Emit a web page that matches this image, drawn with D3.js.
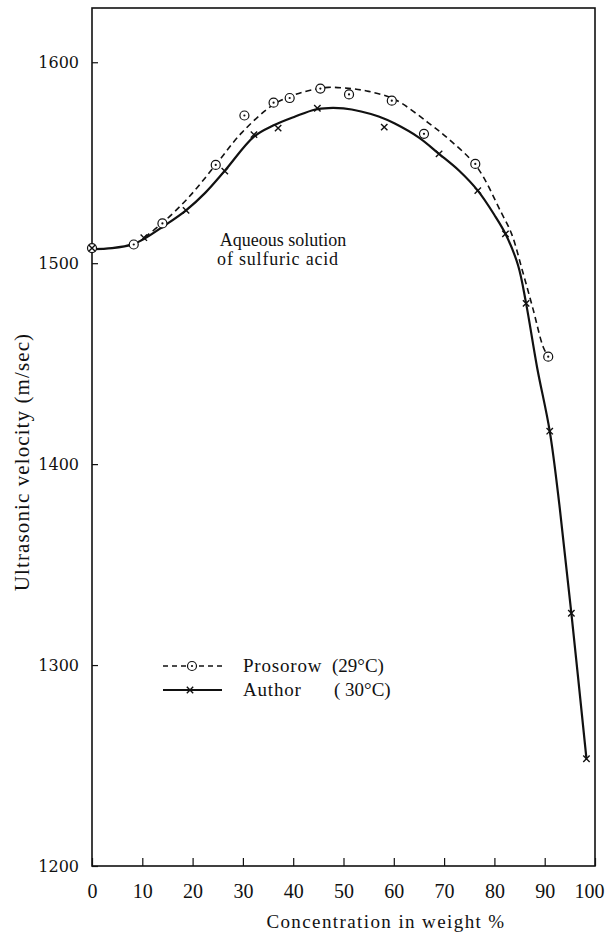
<!DOCTYPE html>
<html>
<head>
<meta charset="utf-8">
<script src="https://cdn.jsdelivr.net/npm/d3@7"></script>
<style>
  body { margin: 0; background: #fff; }
  text { font-family: "Liberation Serif", "DejaVu Serif", serif; fill: #111; }
</style>
</head>
<body>
<script>
// chart data
var xTicks = [0, 10, 20, 30, 40, 50, 60, 70, 80, 90, 100];
var yTicks = [1200, 1300, 1400, 1500, 1600];

// Prosorow (29 C) - measured points and the dashed hand-drawn curve
var prosorowX = [0, 8.3, 14, 24.6, 30.3, 36.1, 39.3, 45.4, 51.1, 59.6, 66, 76.2, 90.7];
var prosorowY = [1507.5, 1509.3, 1519.8, 1548.9, 1573.5, 1579.9, 1582.2, 1586.9, 1584, 1580.9, 1564.4, 1549.4, 1453.5];
var prosorowCurveX = [10.5, 14, 19.3, 24.6, 29.8, 36.1, 40.5, 44.2, 47, 51, 55, 60.2, 66.8, 71.5, 76.5, 81.3, 83.4, 85.6, 87.7, 89.7, 90.7];
var prosorowCurveY = [1513, 1520, 1533, 1549, 1565, 1579, 1584, 1586.5, 1587.5, 1587, 1585.5, 1581.5, 1570, 1560.5, 1548, 1525.5, 1514.7, 1496, 1477, 1458.3, 1453.5];

// Author (30 C) - measured points and the solid curve
var authorX = [0, 10.3, 18.7, 26.4, 32.2, 37, 44.8, 58.1, 69, 76.7, 82.2, 86.3, 91, 95.3, 98.3];
var authorY = [1507.5, 1512.7, 1526.3, 1545.8, 1564, 1567.2, 1577.1, 1567.7, 1554.4, 1536.1, 1514.6, 1480, 1416.4, 1325.8, 1253.4];
var authorCurveX = [0, 4, 8.2, 10.3, 14, 18.7, 22.5, 26.4, 32.2, 36, 40.4, 44.4, 47, 50, 53.5, 57, 60.2, 65, 69, 73, 76.7, 80, 82.2, 84.7, 86.3, 88.5, 91, 93, 95.3, 98.3];
var authorCurveY = [1507, 1507.5, 1509.5, 1512, 1518, 1526.3, 1535, 1546, 1563, 1568.5, 1573, 1576.5, 1577.2, 1577, 1575.5, 1573, 1569.5, 1562.5, 1554.4, 1546, 1536.1, 1524, 1514.6, 1499, 1480, 1448, 1416.4, 1378, 1325.8, 1253.4];

var w = 607, h = 934;

var svg = d3.select("body").append("svg")
    .attr("width", w)
    .attr("height", h);

var x = d3.scaleLinear().domain([0, 100]).range([92, 595]);
var y = d3.scaleLinear().domain([1200, 1627]).range([866, 8]);

// frame
svg.append("rect")
    .attr("x", x(0)).attr("y", y(1627))
    .attr("width", x(100) - x(0)).attr("height", y(1200) - y(1627))
    .attr("fill", "none").attr("stroke", "#111").attr("stroke-width", 1.6);

// axes, ticks pointing inward
var yAxis = svg.append("g")
    .attr("transform", "translate(" + x(0) + ",0)")
    .call(d3.axisLeft(y).tickValues(yTicks).tickSize(-6).tickPadding(13).tickFormat(d3.format("d")));
yAxis.select(".domain").remove();
yAxis.selectAll("line").attr("stroke", "#111").attr("stroke-width", 1.2);
yAxis.selectAll("text")
    .style("font-family", "'DejaVu Serif', serif")
    .style("font-size", "16px")
    .attr("fill", "#111");

var xAxis = svg.append("g")
    .attr("transform", "translate(0," + y(1200) + ")")
    .call(d3.axisBottom(x).tickValues(xTicks).tickSize(-8).tickPadding(18).tickFormat(d3.format("d")));
xAxis.select(".domain").remove();
xAxis.selectAll("line").attr("stroke", "#111").attr("stroke-width", 1.2);
xAxis.selectAll("text")
    .style("font-size", "20px")
    .attr("fill", "#111")
    .attr("dx", function(d) { return d === 100 ? -6 : 0; });

// axis titles
svg.append("text")
    .attr("transform", "translate(29,462) rotate(-90)")
    .attr("text-anchor", "middle")
    .style("font-size", "21px")
    .style("letter-spacing", "1.1px")
    .text("Ultrasonic velocity (m/sec)");

svg.append("text")
    .attr("x", 386).attr("y", 928)
    .attr("text-anchor", "middle")
    .style("font-size", "19px")
    .style("letter-spacing", "1.4px")
    .text("Concentration in weight %");

// annotation
svg.append("text").attr("x", 283).attr("y", 246)
    .attr("text-anchor", "middle").style("font-size", "18px")
    .text("Aqueous solution");
svg.append("text").attr("x", 278).attr("y", 265)
    .attr("text-anchor", "middle").style("font-size", "18px")
    .style("letter-spacing", "0.8px")
    .text("of sulfuric acid");

// curves
var line = d3.line()
    .x(function(d) { return x(d[0]); })
    .y(function(d) { return y(d[1]); })
    .curve(d3.curveCatmullRom.alpha(0.5));

svg.append("path")
    .datum(d3.zip(prosorowCurveX, prosorowCurveY))
    .attr("d", line)
    .attr("fill", "none").attr("stroke", "#111")
    .attr("stroke-width", 1.6).attr("stroke-dasharray", "6,4");

svg.append("path")
    .datum(d3.zip(authorCurveX, authorCurveY))
    .attr("d", line)
    .attr("fill", "none").attr("stroke", "#111")
    .attr("stroke-width", 2.2);

// markers
function drawCircle(g, cx, cy) {
    g.append("circle").attr("cx", cx).attr("cy", cy).attr("r", 4.5)
        .attr("fill", "#fff").attr("stroke", "#111").attr("stroke-width", 1.2);
    g.append("circle").attr("cx", cx).attr("cy", cy).attr("r", 1.1).attr("fill", "#111");
}
function drawCross(g, cx, cy) {
    var s = 3.2;
    g.append("path")
        .attr("d", "M" + (cx - s) + "," + (cy - s) + "L" + (cx + s) + "," + (cy + s) +
                   "M" + (cx - s) + "," + (cy + s) + "L" + (cx + s) + "," + (cy - s))
        .attr("stroke", "#111").attr("stroke-width", 1.4);
}

var marks = svg.append("g");
d3.zip(prosorowX, prosorowY).forEach(function(d) { drawCircle(marks, x(d[0]), y(d[1])); });
d3.zip(authorX, authorY).forEach(function(d) { drawCross(marks, x(d[0]), y(d[1])); });

// legend
var legend = svg.append("g");
legend.append("line").attr("x1", 163).attr("x2", 222).attr("y1", 666).attr("y2", 666)
    .attr("stroke", "#111").attr("stroke-width", 1.5).attr("stroke-dasharray", "5,4");
drawCircle(legend, 192, 666);
legend.append("line").attr("x1", 163).attr("x2", 222).attr("y1", 690).attr("y2", 690)
    .attr("stroke", "#111").attr("stroke-width", 2.2);
drawCross(legend, 190, 690);

legend.append("text").attr("x", 243).attr("y", 672).style("font-size", "19px").style("letter-spacing", "0.8px").text("Prosorow");
legend.append("text").attr("x", 332).attr("y", 672).style("font-size", "19px").text("(29\u00b0C)");
legend.append("text").attr("x", 243).attr("y", 696).style("font-size", "19px").style("letter-spacing", "0.8px").text("Author");
legend.append("text").attr("x", 334).attr("y", 696).style("font-size", "19px").text("( 30\u00b0C)");
</script>
</body>
</html>
